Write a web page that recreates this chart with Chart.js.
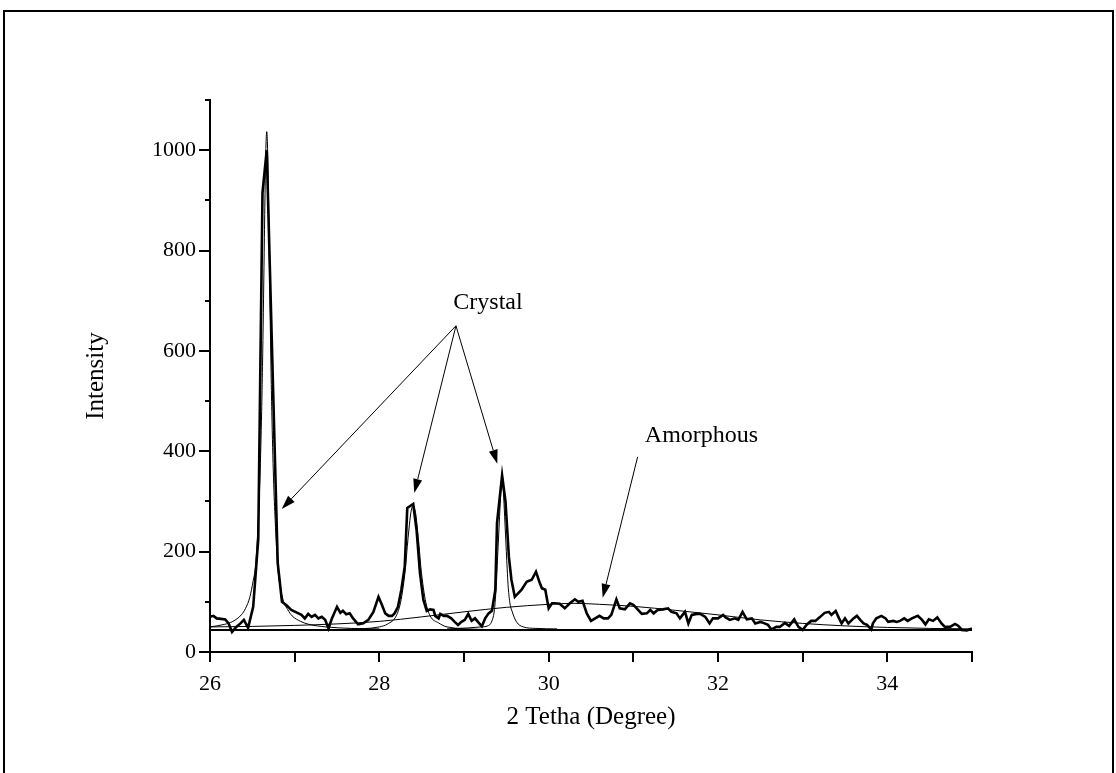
<!DOCTYPE html>
<html><head><meta charset="utf-8">
<script src="https://cdn.jsdelivr.net/npm/chart.js@4.4.0/dist/chart.umd.min.js"></script>
<style>html,body{margin:0;padding:0;background:#fff;overflow:hidden}canvas{display:block}</style>
</head><body>
<canvas id="c" width="1116" height="773"></canvas>
<script>
// ---- measured XRD pattern (2θ, intensity) ----
const dataX = [26.00,26.04,26.08,26.13,26.18,26.22,26.26,26.31,26.36,26.40,26.45,26.51,26.57,26.62,26.67,26.80,26.85,26.91,26.96,27.02,
27.08,27.12,27.16,27.20,27.24,27.28,27.32,27.36,27.40,27.44,27.50,27.54,27.57,27.61,27.65,27.69,27.75,27.81,27.87,27.93,
27.99,28.03,28.07,28.11,28.15,28.18,28.22,28.26,28.30,28.33,28.40,28.44,28.48,28.52,28.56,28.60,28.64,28.66,28.70,28.72,
28.76,28.80,28.85,28.89,28.93,28.97,29.01,29.05,29.09,29.13,29.17,29.21,29.25,29.29,29.33,29.37,29.39,29.45,29.49,29.53,
29.56,29.60,29.68,29.74,29.80,29.85,29.89,29.92,29.96,30.00,30.04,30.07,30.13,30.19,30.25,30.31,30.35,30.40,30.45,30.50,
30.55,30.60,30.65,30.70,30.74,30.80,30.84,30.90,30.96,31.00,31.04,31.10,31.16,31.20,31.24,31.29,31.35,31.41,31.45,31.51,
31.55,31.61,31.65,31.69,31.75,31.79,31.85,31.90,31.94,32.00,32.06,32.09,32.14,32.20,32.24,32.29,32.34,32.40,32.44,32.50,
32.55,32.59,32.63,32.69,32.73,32.79,32.84,32.90,32.95,33.00,33.05,33.10,33.15,33.20,33.26,33.31,33.34,33.39,33.43,33.46,
33.50,33.54,33.60,33.64,33.68,33.72,33.76,33.81,33.83,33.87,33.93,33.98,34.01,34.07,34.11,34.15,34.20,34.24,34.29,34.36,
34.41,34.45,34.49,34.54,34.59,34.64,34.68,34.74,34.80,34.84,34.88,34.94,35.00];
const dataY = [70,72,67,66,65,57,40,50,57,64,48,90,225,915,1000,177,100,92,84,79,
74,67,76,70,74,67,70,64,47,67,90,78,82,75,77,67,55,57,64,80,
110,94,77,72,72,77,90,124,170,287,295,243,157,104,82,85,84,72,67,76,
72,72,67,60,54,60,64,76,62,67,59,51,67,77,82,124,257,352,300,190,
144,110,124,140,144,160,140,127,124,87,97,97,96,87,97,105,100,102,77,62,
67,72,67,67,74,105,87,85,97,94,87,76,77,84,77,84,85,87,80,77,
67,80,57,74,76,76,70,57,67,67,74,69,64,67,64,80,65,67,57,60,
57,54,45,50,50,58,52,65,50,44,55,62,62,69,78,80,74,82,67,57,
67,57,67,72,64,57,54,45,57,67,72,67,60,62,60,62,67,62,67,72,
64,55,65,62,69,57,50,50,56,52,44,43,47];

// ---- fitted components ----
const baseX = [26, 35];
const baseY = [44, 44];

const amorphX = [26.0,26.5,27.0,27.5,28.0,28.5,29.0,29.5,30.0,30.3,30.6,31.0,31.5,32.0,32.5,33.0,33.5,34.0,34.5,35.0];
const amorphY = [50,51,53,56,61,70,80,89,95,97,95,91,83,74,64,57,52,49,47,46];

const peak1X = [26.00,26.17,26.27,26.37,26.42,26.47,26.51,26.54,26.57,26.59,26.61,26.62,26.63,26.64,26.65,26.66,26.67,
26.68,26.69,26.70,26.71,26.72,26.73,26.75,26.77,26.80,26.83,26.87,26.92,26.97,27.07,27.17,27.37,27.67,28.00];
const peak1Y = [50,55,61,74,87,109,142,175,262,347,479,569,676,796,914,1003,1037,
1003,914,796,676,569,479,347,262,170,130,100,84,72,61,55,50,47,46];

const peak2X = [27.60,28.00,28.10,28.20,28.25,28.28,28.31,28.33,28.35,28.37,28.40,28.43,28.45,28.47,28.49,28.52,28.55,28.60,28.70,28.80,29.20];
const peak2Y = [45,50,56,72,98,128,170,210,245,275,292,275,245,210,170,128,98,72,58,50,45];

const peak3X = [28.80,29.05,29.20,29.28,29.33,29.36,29.38,29.40,29.42,29.435,29.45,29.465,29.48,29.50,29.52,29.54,29.57,29.62,29.70,29.85,30.10];
const peak3Y = [46,48,50,52,62,85,130,200,270,320,352,320,270,200,135,100,80,60,50,47,46];

// ---- axes ----
const xTickValues = [26,27,28,29,30,31,32,33,34,35];
const xTickLabels = ['26','','28','','30','','32','','34',''];
const yTickValues = [0,100,200,300,400,500,600,700,800,900,1000,1100];
const yTickLabels = ['0','','200','','400','','600','','800','','1000',''];

const xTitle = '2 Tetha (Degree)';
const yTitle = 'Intensity';

// ---- annotations (data coordinates) ----
const crystalLabel = {text:'Crystal', x:29.283, y:684};
const crystalFrom = [28.905, 650];
const crystalTips = [[26.847, 285], [28.413, 317], [29.393, 375]];
const amorphLabel = {text:'Amorphous', x:31.805, y:418};
const amorphFrom = [31.051, 389];
const amorphTip = [30.638, 108];

const SERIF = '"Liberation Serif", "Times New Roman", serif';

function pts(xs, ys){ return xs.map((x,i)=>({x:x, y:ys[i]})); }

const framePlugin = {
  id:'frame',
  beforeDraw(chart){
    const ctx = chart.ctx;
    ctx.save();
    ctx.fillStyle = '#fff';
    ctx.fillRect(0,0,chart.width,chart.height);
    ctx.strokeStyle = '#000';
    ctx.lineWidth = 2;
    ctx.strokeRect(4, 11, 1109, 800);
    ctx.restore();
  }
};

const tickPlugin = {
  id:'tickmarks',
  afterDraw(chart){
    const {ctx, chartArea:a} = chart;
    const xs = chart.scales.x, ys = chart.scales.y;
    ctx.save();
    ctx.strokeStyle = '#000';
    ctx.lineWidth = 2;
    ctx.beginPath();
    xs.ticks.forEach(t=>{
      const px = Math.round(xs.getPixelForValue(t.value));
      ctx.moveTo(px, a.bottom); ctx.lineTo(px, a.bottom + 10);
    });
    ys.ticks.forEach(t=>{
      const py = Math.round(ys.getPixelForValue(t.value));
      const len = (t.value % 200 === 0) ? 11 : 5;
      ctx.moveTo(a.left - len, py); ctx.lineTo(a.left, py);
    });
    ctx.stroke();
    ctx.restore();
  }
};

function arrow(ctx, x1, y1, x2, y2){
  ctx.beginPath();
  ctx.moveTo(x1, y1);
  const ang = Math.atan2(y2-y1, x2-x1);
  const L = 14, W = 4.5;
  const bx = x2 - L*Math.cos(ang), by = y2 - L*Math.sin(ang);
  ctx.lineTo(bx, by);
  ctx.stroke();
  ctx.beginPath();
  ctx.moveTo(x2, y2);
  ctx.lineTo(bx + W*Math.sin(ang), by - W*Math.cos(ang));
  ctx.lineTo(bx - W*Math.sin(ang), by + W*Math.cos(ang));
  ctx.closePath();
  ctx.fill();
}

const annotPlugin = {
  id:'annot',
  afterDatasetsDraw(chart){
    const ctx = chart.ctx;
    const xs = chart.scales.x, ys = chart.scales.y;
    const P = (p)=>[xs.getPixelForValue(p[0]), ys.getPixelForValue(p[1])];
    ctx.save();
    ctx.strokeStyle = '#000';
    ctx.fillStyle = '#000';
    ctx.lineWidth = 1;
    const f = P(crystalFrom);
    crystalTips.forEach(t=>{ const q = P(t); arrow(ctx, f[0], f[1], q[0], q[1]); });
    const af = P(amorphFrom), at = P(amorphTip);
    arrow(ctx, af[0], af[1], at[0], at[1]);
    ctx.font = '24px ' + SERIF;
    ctx.textAlign = 'center';
    ctx.textBaseline = 'alphabetic';
    ctx.fillText(crystalLabel.text, xs.getPixelForValue(crystalLabel.x), ys.getPixelForValue(crystalLabel.y));
    ctx.fillText(amorphLabel.text, xs.getPixelForValue(amorphLabel.x), ys.getPixelForValue(amorphLabel.y));
    ctx.restore();
  }
};

new Chart(document.getElementById('c'), {
  type:'scatter',
  data:{
    datasets:[
      {data:pts(dataX,dataY), showLine:true, borderColor:'#000', borderWidth:2.6, pointRadius:0, tension:0, borderJoinStyle:'miter'},
      {data:pts(peak1X,peak1Y), showLine:true, borderColor:'#000', borderWidth:1, pointRadius:0, cubicInterpolationMode:'monotone'},
      {data:pts(peak2X,peak2Y), showLine:true, borderColor:'#000', borderWidth:1, pointRadius:0, cubicInterpolationMode:'monotone'},
      {data:pts(peak3X,peak3Y), showLine:true, borderColor:'#000', borderWidth:1, pointRadius:0, cubicInterpolationMode:'monotone'},
      {data:pts(amorphX,amorphY), showLine:true, borderColor:'#000', borderWidth:1, pointRadius:0, cubicInterpolationMode:'monotone'},
      {data:pts(baseX,baseY), showLine:true, borderColor:'#000', borderWidth:2, pointRadius:0}
    ]
  },
  options:{
    responsive:false, animation:false, devicePixelRatio:1,
    layout:{padding:{left:77, top:100, right:144, bottom:37}},
    plugins:{legend:{display:false}, tooltip:{enabled:false}},
    scales:{
      x:{
        type:'linear', position:'bottom', min:26, max:35,
        afterBuildTicks:(s)=>{ s.ticks = xTickValues.map(v=>({value:v})); },
        afterFit:(s)=>{ s.height = 84; },
        grid:{display:false, drawTicks:true, tickLength:10},
        border:{display:true, color:'#000', width:2},
        ticks:{autoSkip:false, maxRotation:0, minRotation:0, color:'#000', padding:9,
          font:{family:SERIF, size:22},
          callback:(v)=>{ const i = xTickValues.indexOf(v); return i>=0 ? xTickLabels[i] : ''; }},
        title:{display:true, text:xTitle, color:'#000', font:{family:SERIF, size:25}, padding:{top:4,bottom:4}}
      },
      y:{
        type:'linear', position:'left', min:0, max:1100,
        afterBuildTicks:(s)=>{ s.ticks = yTickValues.map(v=>({value:v})); },
        afterFit:(s)=>{ s.width = 133; },
        grid:{display:false, drawTicks:true, tickLength:11},
        border:{display:true, color:'#000', width:2},
        ticks:{autoSkip:false, color:'#000', padding:3,
          font:{family:SERIF, size:22},
          callback:(v)=>{ const i = yTickValues.indexOf(v); return i>=0 ? yTickLabels[i] : ''; }},
        title:{display:true, text:yTitle, color:'#000', font:{family:SERIF, size:25}, padding:{top:4,bottom:4}}
      }
    }
  },
  plugins:[framePlugin, tickPlugin, annotPlugin]
});
</script>
</body></html>
